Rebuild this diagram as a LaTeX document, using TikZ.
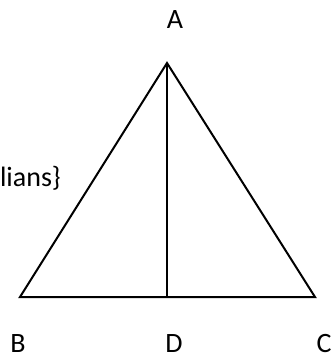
\documentclass[tikz,border=0pt]{standalone}
\usepackage{fontspec}
\setmainfont{Carlito}
\begin{document}
\begin{tikzpicture}[x=1pt,y=-1pt,
  lbl/.style={inner sep=0pt,font=\fontsize{28}{32}\selectfont},
  edge/.style={line width=2pt,line join=miter}]
\useasboundingbox (0,0) rectangle (331,357);
\coordinate (a) at (167,63);
\coordinate (b) at (20,297);
\coordinate (c) at (315,297);
\coordinate (d) at (167,297);
\draw[edge] (b) -- (a) -- (c) -- cycle;
\draw[edge] (a) -- (d);
\node[lbl] (la) at (175,20) {A};
\node[lbl] (lb) at (18,343.5) {B};
\node[lbl] (ld) at (174,343.5) {D};
\node[lbl] (lc) at (324,343.5) {C};
\node[lbl,anchor=base east] (lt) at (61,186) {lians\}};
\end{tikzpicture}
\end{document}
